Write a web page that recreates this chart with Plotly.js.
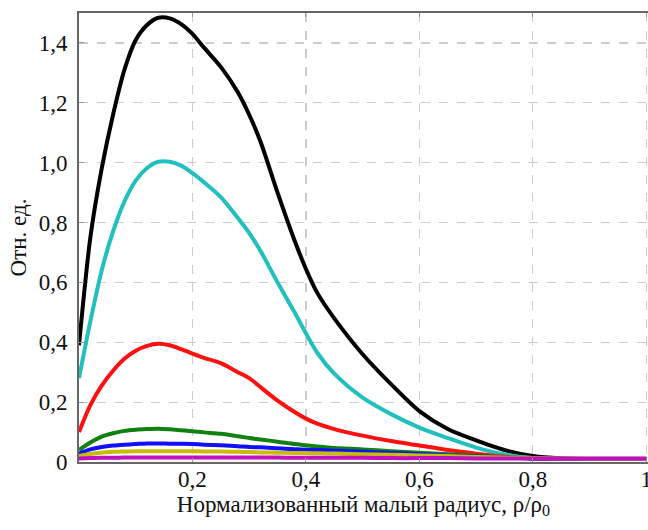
<!DOCTYPE html>
<html>
<head>
<meta charset="utf-8">
<script src="https://cdn.plot.ly/plotly-3.0.1.min.js"></script>
<style>html,body{margin:0;padding:0;background:#fff;}#chart{width:648px;height:530px;}</style>
</head>
<body>
<div id="chart"></div>
<script>
const rho = [0, 0.02, 0.04, 0.06, 0.08, 0.1, 0.12, 0.14, 0.16, 0.18, 0.2, 0.22, 0.25, 0.28, 0.3, 0.32, 0.35, 0.38, 0.4, 0.42, 0.45, 0.5, 0.55, 0.6, 0.65, 0.7, 0.75, 0.8, 0.85, 0.9, 0.95, 1.0];
const blackVals = [0.39, 0.75, 0.98, 1.16, 1.31, 1.41, 1.46, 1.484, 1.482, 1.463, 1.43, 1.385, 1.32, 1.235, 1.16, 1.07, 0.9, 0.74, 0.645, 0.565, 0.48, 0.36, 0.26, 0.17, 0.11, 0.072, 0.04, 0.02, 0.012, 0.01, 0.01, 0.01];
const cyanVals = [0.28, 0.47, 0.64, 0.77, 0.87, 0.94, 0.982, 1.003, 1.003, 0.99, 0.965, 0.935, 0.885, 0.815, 0.765, 0.705, 0.6, 0.5, 0.43, 0.365, 0.295, 0.215, 0.16, 0.115, 0.08, 0.048, 0.025, 0.013, 0.01, 0.01, 0.01, 0.01];
const redVals = [0.1, 0.19, 0.255, 0.305, 0.345, 0.372, 0.388, 0.395, 0.39, 0.377, 0.362, 0.348, 0.33, 0.3, 0.28, 0.25, 0.205, 0.167, 0.145, 0.128, 0.11, 0.088, 0.07, 0.055, 0.04, 0.028, 0.018, 0.012, 0.01, 0.01, 0.01, 0.01];
const greenVals = [0.04, 0.065, 0.085, 0.096, 0.104, 0.108, 0.11, 0.111, 0.109, 0.106, 0.103, 0.099, 0.094, 0.086, 0.08, 0.075, 0.068, 0.06, 0.056, 0.052, 0.047, 0.042, 0.036, 0.031, 0.026, 0.021, 0.016, 0.012, 0.01, 0.01, 0.01, 0.01];
const blueVals = [0.028, 0.042, 0.05, 0.055, 0.058, 0.06, 0.062, 0.062, 0.061, 0.061, 0.06, 0.058, 0.056, 0.053, 0.05, 0.049, 0.046, 0.043, 0.041, 0.04, 0.038, 0.034, 0.03, 0.026, 0.022, 0.018, 0.015, 0.012, 0.011, 0.01, 0.01, 0.01];
const yellowVals = [0.02, 0.027, 0.031, 0.034, 0.035, 0.036, 0.036, 0.036, 0.036, 0.036, 0.036, 0.035, 0.035, 0.034, 0.033, 0.032, 0.031, 0.03, 0.03, 0.029, 0.028, 0.026, 0.024, 0.022, 0.02, 0.017, 0.015, 0.013, 0.012, 0.011, 0.011, 0.011];
const magentaVals = [0.012, 0.013, 0.014, 0.014, 0.015, 0.015, 0.015, 0.015, 0.015, 0.015, 0.015, 0.015, 0.015, 0.015, 0.015, 0.015, 0.015, 0.014, 0.014, 0.014, 0.014, 0.014, 0.013, 0.013, 0.013, 0.012, 0.012, 0.012, 0.012, 0.012, 0.012, 0.012];

const xTickVals = [0.2, 0.4, 0.6, 0.8, 1.0];
const xTickText = ['0,2', '0,4', '0,6', '0,8', '1'];
const yTickVals = [0, 0.2, 0.4, 0.6, 0.8, 1.0, 1.2, 1.4];
const yTickText = ['0', '0,2', '0,4', '0,6', '0,8', '1,0', '1,2', '1,4'];

const seriesList = [
  {y: blackVals, color: '#000000'},
  {y: cyanVals, color: '#22bfbf'},
  {y: redVals, color: '#ff1010'},
  {y: greenVals, color: '#108010'},
  {y: blueVals, color: '#1010ff'},
  {y: yellowVals, color: '#c8bc00'},
  {y: magentaVals, color: '#c010c0'}
];

const traces = seriesList.map(s => ({
  x: rho, y: s.y, type: 'scatter', mode: 'lines',
  line: {color: s.color, width: 4, shape: 'spline', smoothing: 0.8},
  hoverinfo: 'skip', showlegend: false
}));

const font = {family: "'Liberation Serif', 'DejaVu Serif', serif", size: 23, color: '#111'};

const layout = {
  width: 648, height: 530,
  margin: {l: 79, r: 0, t: 13, b: 68},
  paper_bgcolor: '#fff', plot_bgcolor: '#fff',
  font: font,
  showlegend: false,
  xaxis: {
    range: [0, 1.003],
    tickvals: xTickVals, ticktext: xTickText,
    showgrid: true, gridcolor: '#cccccc', griddash: 'dash', gridwidth: 1.2,
    zeroline: false,
    showline: true, linecolor: '#666', linewidth: 2, mirror: 'allticks',
    ticks: 'inside', ticklen: 4, tickcolor: '#999',
    ticklabelstandoff: -5, ticklabeloverflow: 'allow',
    tickfont: font,
    title: {text: 'Нормализованный малый радиус, ρ/ρ<sub>0</sub>', font: font, standoff: 0},
    automargin: false
  },
  yaxis: {
    range: [0, 1.5],
    tickvals: yTickVals, ticktext: yTickText,
    showgrid: true, gridcolor: '#cccccc', griddash: 'dash', gridwidth: 1.2,
    zeroline: false,
    showline: true, linecolor: '#666', linewidth: 2, mirror: false,
    ticks: 'inside', ticklen: 5, tickcolor: '#999',
    ticklabelstandoff: 5,
    tickfont: font,
    title: {text: 'Отн. ед.', font: font, standoff: 6},
    automargin: false
  }
};

Plotly.newPlot('chart', traces, layout, {staticPlot: true, displayModeBar: false});
</script>
</body>
</html>
